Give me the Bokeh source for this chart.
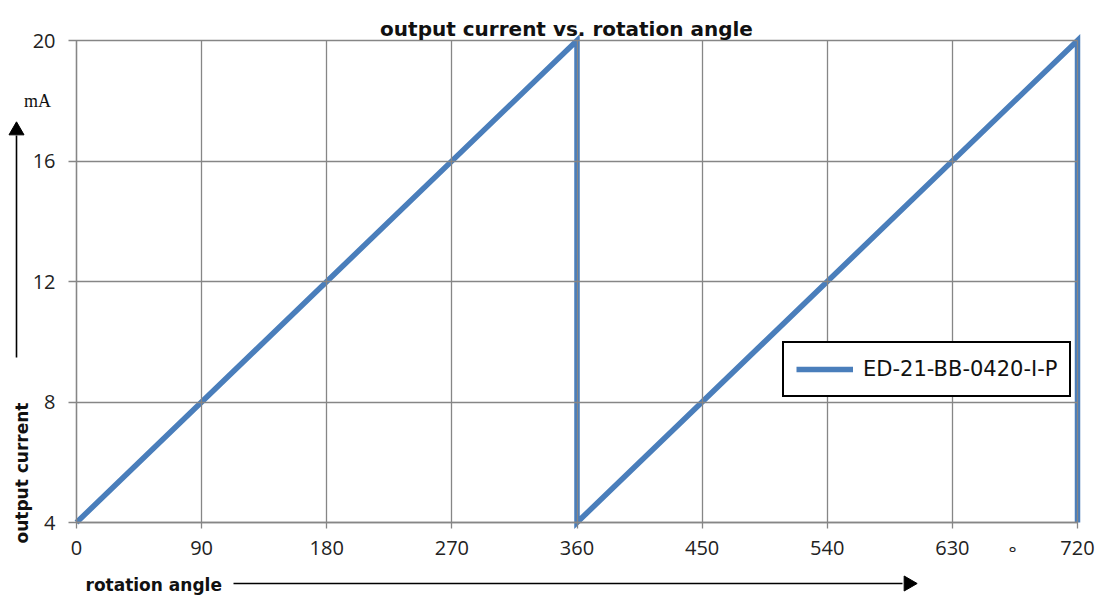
from bokeh.plotting import figure
from bokeh.models import (Range1d, FixedTicker, Label, LinearAxis,
                          Legend, LegendItem, ColumnDataSource)
from bokeh.embed import file_html
from bokeh.resources import INLINE
import math

# ---- data ----
angle_deg = [0, 360, 360, 720, 720]
current_mA = [4, 20, 4, 20, 4]
x_ticks = [0, 90, 180, 270, 360, 450, 540, 630, 720]
y_ticks = [4, 8, 12, 16, 20]
series_name = "ED-21-BB-0420-I-P"
title_text = "output current vs. rotation angle"
x_label = "rotation angle"
y_label = "output current"
unit_label = "mA"
degree_label = "°"

BLUE = "#4A7EBB"
GRID = "#868686"
FONT = "Open Sans"
BOLD_FONT = "DejaVu Sans"

W, H = 1107, 599
# plot area in canvas pixels
PX_L, PX_R, PX_T, PX_B = 76, 1077, 40, 522
X0, X1 = x_ticks[0], x_ticks[-1]
Y0, Y1 = y_ticks[0], y_ticks[-1]
kx = (X1 - X0) / (PX_R - PX_L)
ky = (Y1 - Y0) / (PX_B - PX_T)

def dx(px):
    return X0 + (px - PX_L) * kx

def dy(py):
    return Y0 + (PX_B - py) * ky

p = figure(width=W, height=H, output_backend="svg", toolbar_location=None,
           x_range=Range1d(dx(0), dx(W)), y_range=Range1d(dy(H), dy(0)),
           x_axis_type=None, y_axis_type=None, min_border=0)
p.outline_line_color = None
p.background_fill_color = "white"
p.grid.visible = False

src = ColumnDataSource(dict(x=angle_deg, y=current_mA))
r = p.line("x", "y", source=src, line_color=BLUE, line_width=5.5, line_join="miter")

# axes fixed at the plot-area edges; long inward ticks act as grid lines
xaxis = LinearAxis(fixed_location=Y0, bounds=(X0, X1), ticker=FixedTicker(ticks=x_ticks))
yaxis = LinearAxis(fixed_location=X0, bounds=(Y0, Y1), ticker=FixedTicker(ticks=y_ticks))
for ax in (xaxis, yaxis):
    ax.axis_line_color = GRID
    ax.axis_line_width = 1.3
    ax.major_tick_line_color = GRID
    ax.major_tick_line_width = 1.3
    ax.minor_tick_line_color = None
    ax.major_label_text_font = FONT
    ax.major_label_text_font_size = "20px"
    ax.major_label_text_color = "#222222"
xaxis.major_tick_out = 6
xaxis.major_tick_in = PX_B - PX_T
xaxis.major_label_standoff = 12
yaxis.major_tick_out = 8
yaxis.major_tick_in = PX_R - PX_L
yaxis.major_label_standoff = 13
p.add_layout(xaxis, "below")
p.add_layout(yaxis, "left")

# texts
p.add_layout(Label(x=dx(566), y=dy(28), text=title_text, text_align="center",
                   text_baseline="alphabetic", text_font=BOLD_FONT, text_font_style="bold",
                   text_font_size="20px", text_color="#111111"))
p.add_layout(Label(x=dx(37), y=dy(100), text=unit_label, text_align="center",
                   text_baseline="alphabetic", text_font="Liberation Serif",
                   text_font_size="18px", text_color="#111111"))
p.add_layout(Label(x=dx(21), y=dy(543), text=y_label, angle=math.pi / 2,
                   text_align="left", text_baseline="middle", text_font=BOLD_FONT,
                   text_font_style="bold", text_font_size="17px", text_color="#111111"))
p.add_layout(Label(x=dx(85), y=dy(584), text=x_label, text_align="left",
                   text_baseline="middle", text_font=BOLD_FONT, text_font_style="bold",
                   text_font_size="17px", text_color="#111111"))
p.add_layout(Label(x=dx(1012), y=dy(552), text=degree_label, text_align="center",
                   text_baseline="alphabetic", text_font=FONT,
                   text_font_size="19px", text_color="#222222"))

# arrows: shaft + triangular head
p.segment(x0=[dx(16), dx(233)], y0=[dy(357), dy(583)],
          x1=[dx(16), dx(902)], y1=[dy(135), dy(583)],
          line_color="black", line_width=1.6)
p.scatter(x=[dx(16), dx(908)], y=[dy(130), dy(583)], marker="triangle",
          angle=[0, -math.pi / 2], size=15, fill_color="black", line_color="black")

legend = Legend(items=[LegendItem(label=series_name, renderers=[r])],
                location=(782, H - 397), orientation="vertical",
                border_line_color="black", border_line_width=2, border_line_alpha=1.0,
                background_fill_color="white", background_fill_alpha=1.0,
                padding=12, margin=0, spacing=0,
                glyph_width=57, glyph_height=28, label_height=28,
                label_standoff=10, label_text_font=BOLD_FONT,
                label_text_font_size="21px", label_text_color="#111111")
p.add_layout(legend)

open("out.html", "w").write(file_html(p, INLINE))
